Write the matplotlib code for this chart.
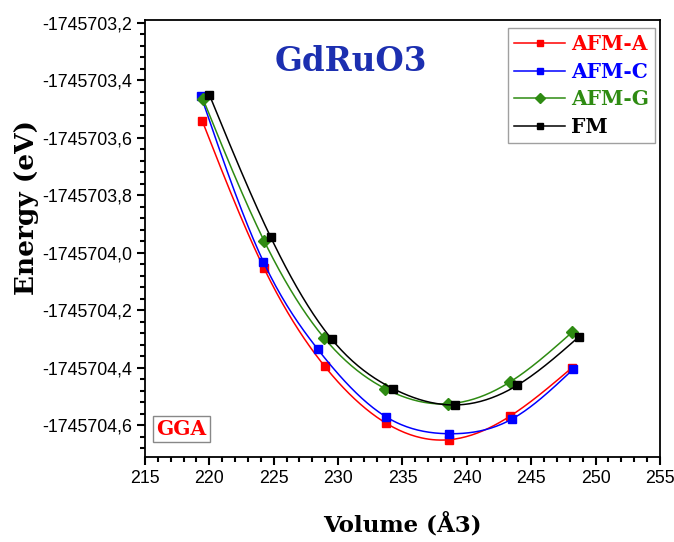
import matplotlib.pyplot as plt
import numpy as np
from matplotlib.ticker import MultipleLocator, FuncFormatter

# volumes (A^3) and energies (eV)
vol_afma = [219.45, 224.25, 228.95, 233.75, 238.6, 243.35, 248.15]
en_afma = [-1745703.541, -1745704.054, -1745704.394, -1745704.593, -1745704.650, -1745704.568, -1745704.400]

vol_afmc = [219.35, 224.2, 228.4, 233.75, 238.6, 243.5, 248.25]
en_afmc = [-1745703.454, -1745704.031, -1745704.334, -1745704.571, -1745704.629, -1745704.578, -1745704.405]

vol_afmg = [219.5, 224.25, 228.9, 233.65, 238.5, 243.35, 248.2]
en_afmg = [-1745703.464, -1745703.958, -1745704.295, -1745704.472, -1745704.525, -1745704.449, -1745704.275]

vol_fm = [220.0, 224.75, 229.5, 234.3, 239.1, 243.9, 248.7]
en_fm = [-1745703.450, -1745703.944, -1745704.300, -1745704.473, -1745704.529, -1745704.461, -1745704.292]

labels = ["AFM-A", "AFM-C", "AFM-G", "FM"]
colors = ["#ff0000", "#0000ff", "#2e8b12", "#000000"]
markers = ["s", "s", "D", "s"]


def spline(x, y, n=200):
    # natural cubic spline, only used to draw the smooth connecting line
    x = np.asarray(x, float)
    y = np.asarray(y, float) + 1745703.0
    k = len(x)
    h = np.diff(x)
    A = np.zeros((k, k))
    b = np.zeros(k)
    A[0, 0] = A[-1, -1] = 1
    for i in range(1, k - 1):
        A[i, i - 1] = h[i - 1]
        A[i, i] = 2 * (h[i - 1] + h[i])
        A[i, i + 1] = h[i]
        b[i] = 6 * ((y[i + 1] - y[i]) / h[i] - (y[i] - y[i - 1]) / h[i - 1])
    M = np.linalg.solve(A, b)
    xs = np.linspace(x[0], x[-1], n)
    idx = np.clip(np.searchsorted(x, xs) - 1, 0, k - 2)
    x0, x1 = x[idx], x[idx + 1]
    hh = x1 - x0
    ys = (M[idx] * (x1 - xs) ** 3 / (6 * hh) + M[idx + 1] * (xs - x0) ** 3 / (6 * hh)
          + (y[idx] / hh - M[idx] * hh / 6) * (x1 - xs)
          + (y[idx + 1] / hh - M[idx + 1] * hh / 6) * (xs - x0))
    return xs, ys - 1745703.0


fig = plt.figure(figsize=(6.74, 5.42), dpi=100)
ax = fig.add_axes([0.2151, 0.1568, 0.7641, 0.8063])

series = [(vol_afma, en_afma), (vol_afmc, en_afmc), (vol_afmg, en_afmg), (vol_fm, en_fm)]
for (vx, ey), lab, c, m in zip(series, labels, colors, markers):
    sx, sy = spline(vx, ey)
    ax.plot(sx, sy, color=c, lw=1.1)
    ax.plot(vx, ey, ls="none", marker=m, color=c, ms=6 if m == "s" else 6.5)
    ax.plot([], [], color=c, lw=1.1, marker=m, ms=4.5 if m == "s" else 5.5, label=lab)

ax.set_xlim(215, 255)
ax.set_ylim(-1745704.71, -1745703.19)
ax.xaxis.set_major_locator(MultipleLocator(5))
ax.xaxis.set_minor_locator(MultipleLocator(1))
ax.yaxis.set_major_locator(MultipleLocator(0.2))
ax.yaxis.set_minor_locator(MultipleLocator(0.04))
ax.yaxis.set_major_formatter(FuncFormatter(lambda v, p: ("%.1f" % v).replace(".", ",")))
ax.xaxis.set_major_formatter(FuncFormatter(lambda v, p: "%d" % round(v)))

ax.tick_params(which="both", direction="out", top=False, right=False, width=1.5)
ax.tick_params(which="major", length=6, labelsize=12.8)
ax.tick_params(which="minor", length=3.5)
for lbl in ax.get_xticklabels() + ax.get_yticklabels():
    lbl.set_family("Liberation Sans")
for sp in ax.spines.values():
    sp.set_linewidth(1.3)

ax.set_xlabel("Volume (Å3)", family="DejaVu Serif", fontweight="bold", fontsize=16.5, labelpad=18)
ax.set_ylabel("Energy (eV)", family="DejaVu Serif", fontweight="bold", fontsize=19)
ax.yaxis.set_label_coords(-0.205, 0.572)

ax.text(0.40, 0.904, "GdRuO3", transform=ax.transAxes, ha="center", va="center",
        family="DejaVu Serif", fontweight="bold", fontsize=23.5, color="#1c2fb0")

ax.text(0.071, 0.064, "GGA", transform=ax.transAxes, ha="center", va="center",
        family="DejaVu Serif", fontweight="bold", fontsize=14.5, color="#ff0000",
        bbox=dict(boxstyle="square,pad=0.15", fc="white", ec="#888888", lw=1))

leg = ax.legend(loc="upper right", bbox_to_anchor=(0.99, 0.982), frameon=True, fancybox=False,
                edgecolor="#888888", handlelength=2.5, handletextpad=0.3, borderpad=0.3,
                borderaxespad=0, labelspacing=0.38,
                prop={"family": "DejaVu Serif", "weight": "bold", "size": 14.5})
leg.get_frame().set_linewidth(1)
for t, c in zip(leg.get_texts(), colors):
    t.set_color(c)

fig.savefig("out.png", dpi=100)
